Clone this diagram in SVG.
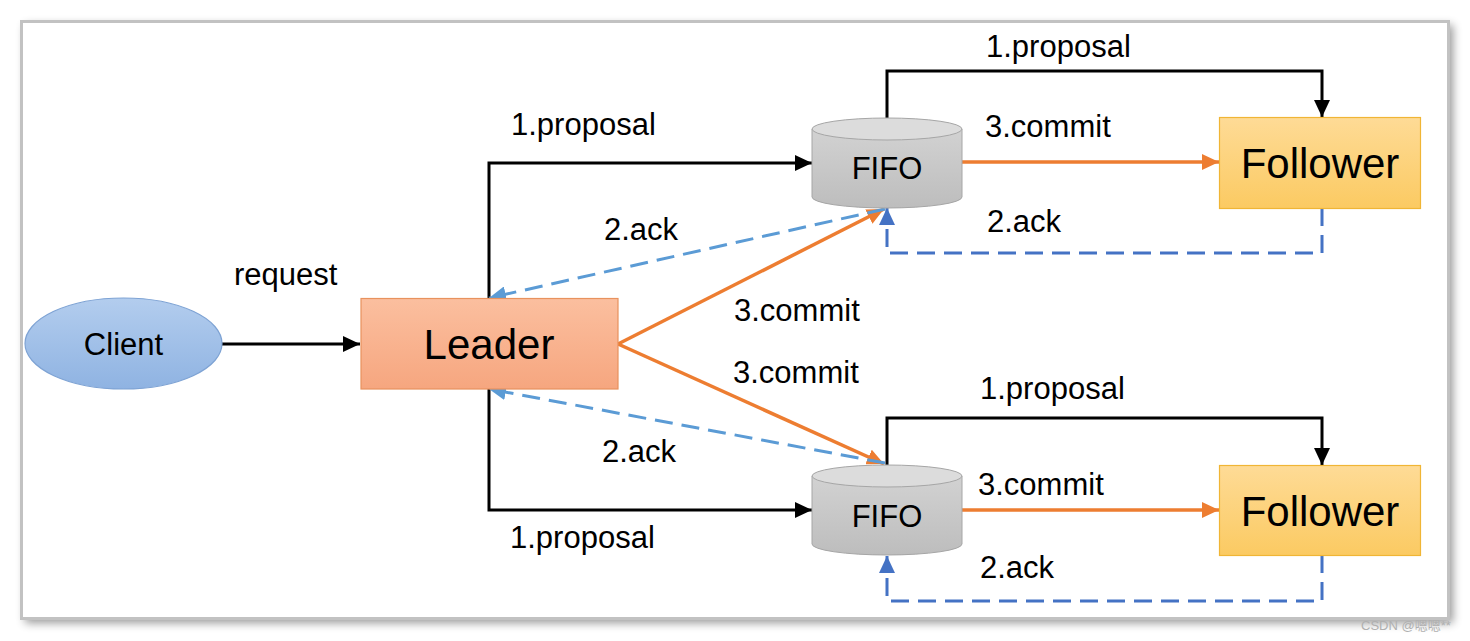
<svg xmlns="http://www.w3.org/2000/svg" width="1470" height="641" viewBox="0 0 1470 641">
<defs>
<filter id="shadow" x="-5%" y="-5%" width="110%" height="112%">
<feGaussianBlur stdDeviation="5"/>
</filter>
<linearGradient id="gClient" x1="0" y1="0" x2="0" y2="1"><stop offset="0" stop-color="#b3cdee"/><stop offset="1" stop-color="#8fb3e2"/></linearGradient>
<linearGradient id="gLeader" x1="0" y1="0" x2="0" y2="1"><stop offset="0" stop-color="#fbbf9f"/><stop offset="1" stop-color="#f6a67f"/></linearGradient>
<linearGradient id="gFollower" x1="0" y1="0" x2="0" y2="1"><stop offset="0" stop-color="#fedb96"/><stop offset="1" stop-color="#fbca62"/></linearGradient>
<linearGradient id="gCyl" x1="0" y1="0" x2="0" y2="1"><stop offset="0" stop-color="#d2d2d2"/><stop offset="1" stop-color="#bdbdbd"/></linearGradient>
<marker id="aBlack" markerUnits="userSpaceOnUse" markerWidth="18" markerHeight="16" refX="17" refY="8" orient="auto"><path d="M0,0 L17,8 L0,16 z" fill="#000"/></marker>
<marker id="aOrange" markerUnits="userSpaceOnUse" markerWidth="18" markerHeight="16" refX="17" refY="8" orient="auto"><path d="M0,0 L17,8 L0,16 z" fill="#ed7d31"/></marker>
<marker id="aLight" markerUnits="userSpaceOnUse" markerWidth="18" markerHeight="16" refX="17" refY="8" orient="auto"><path d="M0,0 L17,8 L0,16 z" fill="#5b9bd5"/></marker>
<marker id="aDark" markerUnits="userSpaceOnUse" markerWidth="18" markerHeight="16" refX="17" refY="8" orient="auto"><path d="M0,0 L17,8 L0,16 z" fill="#4472c4"/></marker>
</defs>
<style>
.lbl{font-family:"Liberation Sans",Arial,sans-serif;font-size:31px;fill:#000}
.big{font-family:"Liberation Sans",Arial,sans-serif;font-size:42px;fill:#000;text-anchor:middle}
.mid{font-family:"Liberation Sans",Arial,sans-serif;font-size:31px;fill:#000;text-anchor:middle}
.black{fill:none;stroke:#000;stroke-width:3;marker-end:url(#aBlack)}
.orange{fill:none;stroke:#ed7d31;stroke-width:3.5;marker-end:url(#aOrange)}
.light{fill:none;stroke:#5b9bd5;stroke-width:3;stroke-dasharray:18 9;marker-end:url(#aLight)}
.dark{fill:none;stroke:#4472c4;stroke-width:3;stroke-dasharray:18 9;marker-end:url(#aDark)}
.cylBody{fill:url(#gCyl);stroke:#a6a6a6;stroke-width:1}
.cylTop{fill:#dcdcdc;stroke:#a6a6a6;stroke-width:1}
</style>
<rect width="1470" height="641" fill="#ffffff"/>
<rect x="25" y="25" width="1428" height="598" fill="#000" opacity="0.4" filter="url(#shadow)"/>
<rect x="21.5" y="21.5" width="1427" height="597" fill="#ffffff" stroke="#c2c2c2" stroke-width="3"/>

<g id="connectors">
<path class="black" d="M222,344 H360"/>
<path class="black" d="M489,298 V163 H812"/>
<path class="black" d="M489,389 V510 H812"/>
<path class="black" d="M887,118 V71 H1322 V117"/>
<path class="black" d="M887,465 V418 H1322 V465"/>
<path class="orange" d="M962,162 H1219"/>
<path class="orange" d="M962,510 H1219"/>
<path class="orange" d="M618,344 L884,209"/>
<path class="orange" d="M618,344 L884,464"/>
<path class="light" d="M885,209 L489,298"/>
<path class="light" d="M885,463 L489,389"/>
<path class="dark" d="M1322,208 V253 H887 V208"/>
<path class="dark" d="M1322,555 V601 H887 V556"/>
<text class="lbl" x="234" y="285">request</text>
<text class="lbl" x="511" y="135">1.proposal</text>
<text class="lbl" x="510" y="548">1.proposal</text>
<text class="lbl" x="986" y="57">1.proposal</text>
<text class="lbl" x="980" y="399">1.proposal</text>
<text class="lbl" x="985" y="137">3.commit</text>
<text class="lbl" x="978" y="495">3.commit</text>
<text class="lbl" x="734" y="321">3.commit</text>
<text class="lbl" x="733" y="383">3.commit</text>
<text class="lbl" x="604" y="240">2.ack</text>
<text class="lbl" x="602" y="462">2.ack</text>
<text class="lbl" x="987" y="232">2.ack</text>
<text class="lbl" x="980" y="578">2.ack</text>
</g>

<g id="client">
<ellipse cx="123.5" cy="343.5" rx="98.5" ry="45.5" fill="url(#gClient)" stroke="#7ea3d4" stroke-width="1.2"/>
<text class="mid" x="123.5" y="355">Client</text>
</g>
<g id="leader">
<rect x="361" y="298.5" width="257" height="90.5" fill="url(#gLeader)" stroke="#e8925e" stroke-width="1.2"/>
<text class="big" x="489" y="359">Leader</text>
</g>
<g id="fifo1">
<path class="cylBody" d="M812,129 V197 A75,11 0 0 0 962,197 V129 Z"/>
<ellipse class="cylTop" cx="887" cy="129" rx="75" ry="11"/>
<text class="mid" x="887" y="179">FIFO</text>
</g>
<g id="fifo2">
<path class="cylBody" d="M812,476 V544 A75,11 0 0 0 962,544 V476 Z"/>
<ellipse class="cylTop" cx="887" cy="476" rx="75" ry="11"/>
<text class="mid" x="887" y="527">FIFO</text>
</g>
<g id="follower1">
<rect x="1219.5" y="117.5" width="201" height="91" fill="url(#gFollower)" stroke="#f0b535" stroke-width="1.2"/>
<text class="big" x="1320" y="178">Follower</text>
</g>
<g id="follower2">
<rect x="1219.5" y="465.5" width="201" height="90" fill="url(#gFollower)" stroke="#f0b535" stroke-width="1.2"/>
<text class="big" x="1320" y="526">Follower</text>
</g>
<text x="1361" y="630" font-family="'Liberation Sans','Noto Sans CJK SC',sans-serif" font-size="13" fill="#b0b0b0">CSDN @嗯嗯**</text>
</svg>
